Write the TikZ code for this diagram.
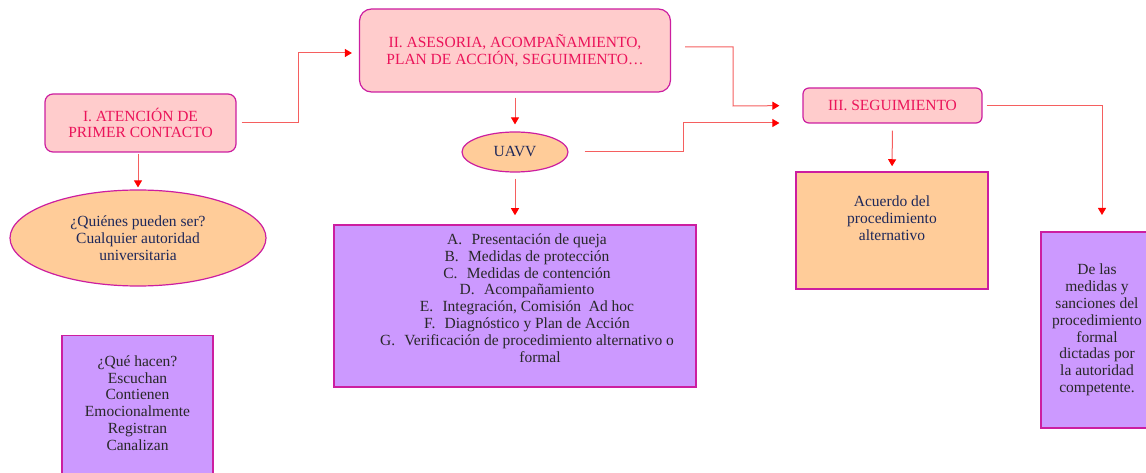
\documentclass[tikz,border=0pt]{standalone}
\usepackage{fontspec}
\setmainfont{Liberation Serif}
\usetikzlibrary{shapes.geometric,arrows.meta}
\definecolor{pinkfill}{RGB}{255,204,204}
\definecolor{pinktext}{RGB}{235,20,90}
\definecolor{bordercol}{RGB}{204,30,160}
\definecolor{orangefill}{RGB}{255,204,153}
\definecolor{navy}{RGB}{30,40,90}
\definecolor{purplefill}{RGB}{204,153,255}
\definecolor{darktext}{RGB}{40,40,40}
\definecolor{linecol}{RGB}{245,95,95}
\tikzset{
  pinkbox/.style={draw=bordercol, line width=1.2pt, fill=pinkfill, rounded corners=8pt, text=pinktext, align=center, inner sep=0pt},
  orangeell/.style={ellipse, draw=bordercol, line width=1.2pt, fill=orangefill, text=navy, align=center, inner sep=0pt},
  purplebox/.style={draw=bordercol, line width=1.5pt, fill=purplefill, text=darktext, align=center, inner sep=0pt},
  orangebox/.style={draw=bordercol, line width=1.5pt, fill=orangefill, inner sep=0pt},
  conn/.style={draw=linecol, line width=1pt, -{Triangle[width=8pt,length=7pt,color=red]}},
  txt/.style={align=center, inner sep=0pt}
}
\begin{document}
\begin{tikzpicture}[x=1pt,y=-1pt, font=\fontsize{15.5}{16.8}\selectfont]
\useasboundingbox (0,0) rectangle (1146,473);

% boxes
\node[pinkbox, minimum width=191pt, minimum height=58pt] (I) at (140.5,123) {I. ATENCIÓN DE\\PRIMER CONTACTO};
\node[orangeell, minimum width=256pt, minimum height=96pt] (who) at (138,238) {¿Quiénes pueden ser?\\Cualquier autoridad\\universitaria};
\node[purplebox, minimum width=151pt, minimum height=141pt] (que) at (137.5,406) {};
\node[txt, text=darktext] (quetext) at (137.5,403) {¿Qué hacen?\\Escuchan\\Contienen\\Emocionalmente\\Registran\\Canalizan};

\node[pinkbox, rounded corners=12pt, minimum width=311pt, minimum height=83pt] (II) at (515,50.5) {II. ASESORIA, ACOMPAÑAMIENTO,\\PLAN DE ACCIÓN, SEGUIMIENTO…};
\node[orangeell, minimum width=106pt, minimum height=40pt] (uavv) at (515,152) {UAVV};

\node[purplebox, minimum width=362pt, minimum height=162pt] (list) at (515,306) {};
\node[txt, text=darktext] (listtext) at (527,298) {A.\hspace{0.6em}Presentación de queja\\
B.\hspace{0.6em}Medidas de protección\\
C.\hspace{0.6em}Medidas de contención\\
D.\hspace{0.6em}Acompañamiento\\
E.\hspace{0.6em}Integración, Comisión\ \ Ad hoc\\
F.\hspace{0.6em}Diagnóstico y Plan de Acción\\
G.\hspace{0.6em}Verificación de procedimiento alternativo o\\
\hspace*{26pt}formal};

\node[pinkbox, rounded corners=6pt, minimum width=179pt, minimum height=35pt] (III) at (892.5,105.5) {III. SEGUIMIENTO};
\node[orangebox, minimum width=192pt, minimum height=117pt] (acuerdo) at (892,230.5) {};
\node[txt, text=navy] (acuerdotext) at (892,218) {Acuerdo del\\procedimiento\\alternativo};

\node[purplebox, minimum width=112pt, minimum height=196pt] (medidas) at (1097,330) {De las\\medidas y\\sanciones del\\procedimiento\\formal\\dictadas por\\la autoridad\\competente.};

% connectors
\coordinate (a1) at (298,53);
\coordinate (a2) at (683,123);
\coordinate (a3) at (733,106);
\coordinate (a4) at (1102,232);

\draw[conn, shorten <=5pt, shorten >=7pt] (I.east) -| (a1) -- (a1 -| II.west);
\draw[conn, shorten <=1pt, shorten >=2pt] (I.south -| who.north) -- (who.north);
\draw[conn, shorten <=5pt, shorten >=7pt] (II.south) -- (uavv.north);
\draw[conn, shorten <=6pt, shorten >=9pt] (uavv.south) -- (list.north);
\draw[conn, shorten <=16pt, shorten >=23pt] (uavv.east) -| (a2) -- (a2 -| III.west);
\draw[conn, shorten <=14pt, shorten >=23pt] ([yshift=3.5pt]II.east) -| (a3) -- (III.west);
\draw[conn, shorten <=7pt, shorten >=5pt] (III.south) -- (acuerdo.north);
\draw[conn, shorten <=4pt, shorten >=17pt] (III.east) -| (a4);
\end{tikzpicture}
\end{document}
